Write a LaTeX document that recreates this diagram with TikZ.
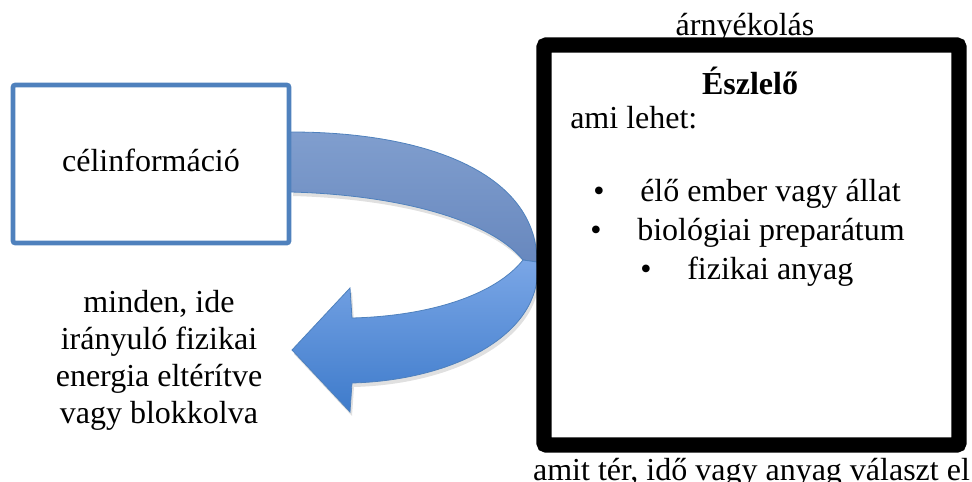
\documentclass[tikz,border=0pt]{standalone}
\usepackage{fontspec}
\setmainfont{Liberation Serif}
\definecolor{boxblue}{RGB}{79,129,189}
\definecolor{darkbandA}{RGB}{128,158,206}
\definecolor{darkbandB}{RGB}{104,136,190}
\definecolor{lightA}{RGB}{122,166,230}
\definecolor{lightB}{RGB}{62,123,203}
\tikzset{
  txt/.style={inner sep=0pt, font=\fontsize{24}{27.75}\selectfont},
  blist/.style={txt, anchor=base west},
}
\begin{document}
\begin{tikzpicture}[x=0.75pt,y=-0.75pt]
\useasboundingbox (0,0) rectangle (972,482);
% target information box
\node[draw=boxblue, line width=3.4pt, rounded corners=1.5pt, minimum width=276*0.75pt, minimum height=158*0.75pt, inner sep=0pt] (cel) at (151,164) {};
\node[txt] (celtxt) at (151,160) {célinformáció};
% shadow of arrow
\begin{scope}[shift={(2,4)}]
\fill[black, opacity=0.12] (291,132) .. controls (430,132) and (537,175) .. (537,262)
  .. controls (545,330) and (460,380) .. (352,383) -- (350,412) -- (292,350) -- (350,288) -- (352,318)
  .. controls (430,316) and (495,295) .. (523,260) .. controls (490,220) and (400,195) .. (291,192) -- cycle;
\end{scope}
% dark back part of the curved arrow
\path[draw=boxblue, line width=0.6pt, top color=darkbandA, bottom color=darkbandB]
  (291,132) coordinate (bandtop) .. controls (430,132) and (537,175) .. (537,262) coordinate (bandright)
  -- (523,260) coordinate (bandmeet) .. controls (490,220) and (400,195) .. (291,192) coordinate (bandbot) -- cycle;
% light front part with the arrowhead
\path[draw=boxblue, line width=0.6pt, top color=lightA, bottom color=lightB]
  (bandmeet) .. controls (495,295) and (430,316) .. (352,318) -- (350,288) -- (292,350) coordinate (tip)
  -- (350,412) -- (352,383) .. controls (460,380) and (545,330) .. (bandright) -- cycle;
% left text
\node[txt, align=center, anchor=base] (energy) at (159,423) {minden, ide\\irányuló fizikai\\energia eltérítve\\vagy blokkolva};
% observer box
\draw[line width=11.6pt, rounded corners=2pt] (544,45) rectangle (959,445);
\coordinate (obs) at (751.5,245);
\node[txt, anchor=base] (shield) at (745,35) {árnyékolás};
\node[txt, anchor=base] (title) at (750,94) {\bfseries Észlelő};
\node[blist] (ami) at (570,128) {ami lehet:};
\node[txt, anchor=base] (b1) at (599,201) {•};
\node[blist] (l1) at (640,201) {élő ember vagy állat};
\node[txt, anchor=base] (b2) at (596,240) {•};
\node[blist] (l2) at (637,240) {biológiai preparátum};
\node[txt, anchor=base] (b3) at (646,279) {•};
\node[blist] (l3) at (687,279) {fizikai anyag};
\node[txt, anchor=base] (bottom) at (751.5,480) {amit tér, idő vagy anyag választ el};
\end{tikzpicture}
\end{document}
